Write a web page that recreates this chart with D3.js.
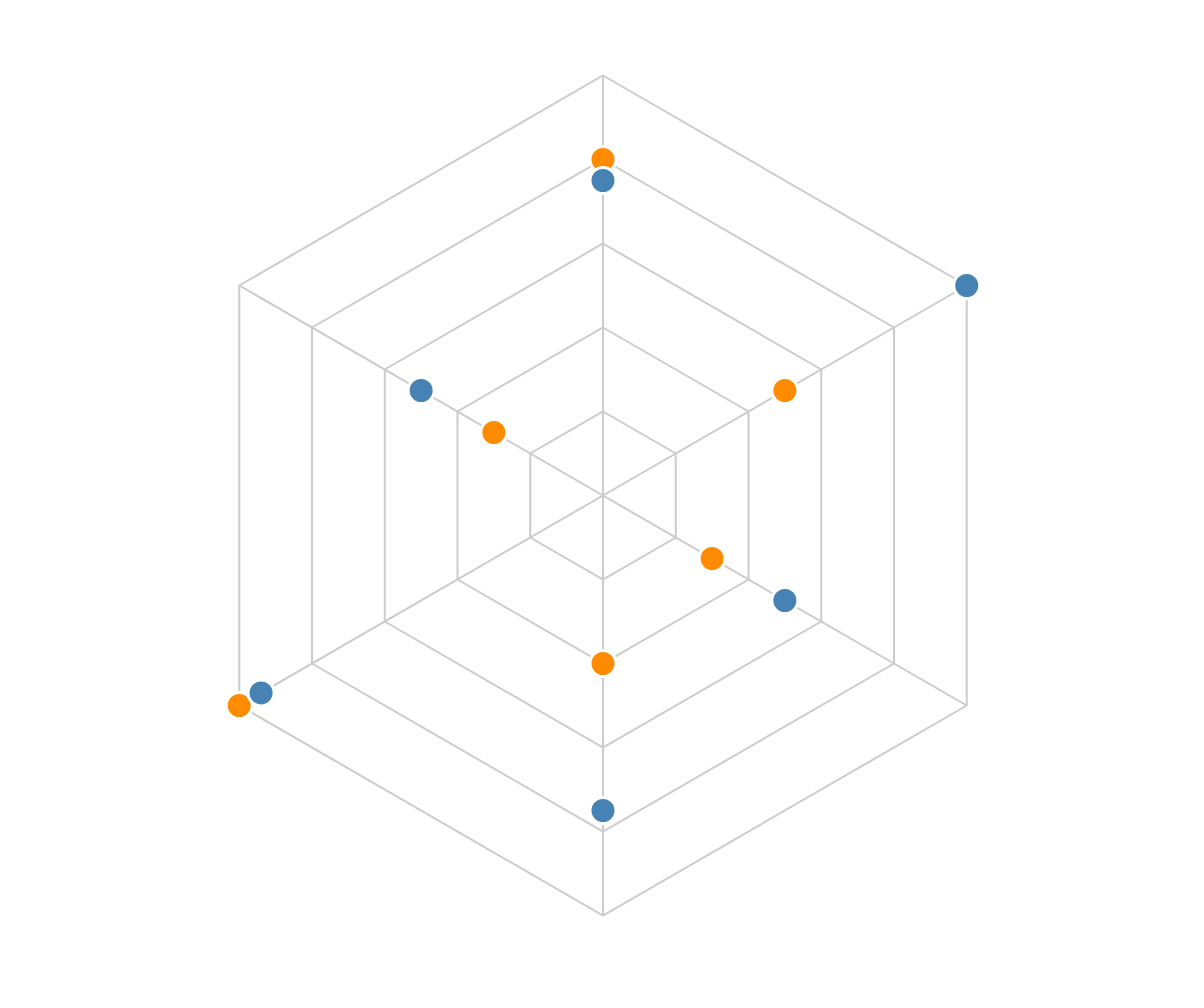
<!DOCTYPE html>
<html>
<head>
<meta charset="utf-8">
<script src="https://cdn.jsdelivr.net/npm/d3@7"></script>
<style>
  body { margin: 0; background: #fff; }
</style>
</head>
<body>
<div id="chart"></div>
<script>
// six axes, clockwise from the top
var axes = ["A", "B", "C", "D", "E", "F"];
var levels = [1, 2, 3, 4, 5];
var seriesNames = ["orange", "blue"];
var orangeValues = [4.0, 2.5, 1.5, 2.0, 5.0, 1.5];
var blueValues = [3.75, 5.0, 2.5, 3.75, 4.7, 2.5];
var seriesColors = ["#ff8c00", "#4682b4"];

var w = 1204, h = 1008;
var cx = 603, cy = 495.5;

var svg = d3.select("#chart")
    .append("svg")
    .attr("width", w)
    .attr("height", h);

//radius scale, 0..5 mapped to 0..420 px
var r = d3.scaleLinear().domain([0, 5]).range([0, 420]);

var angle = d3.scaleLinear().domain([0, axes.length]).range([0, 2 * Math.PI]);

function pt(i, v) {
    var a = angle(i);
    return [cx + r(v) * Math.sin(a), cy - r(v) * Math.cos(a)];
}

var g = svg.append("g");

//hexagon rings
g.selectAll("polygon.ring")
    .data(levels)
    .enter()
    .append("polygon")
    .attr("class", "ring")
    .attr("points", function (lv) {
        return axes.map(function (d, i) { return pt(i, lv).join(","); }).join(" ");
    })
    .style("fill", "none")
    .style("stroke", "#cccccc")
    .style("stroke-width", 2);

//spokes
g.selectAll("line.spoke")
    .data(axes)
    .enter()
    .append("line")
    .attr("class", "spoke")
    .attr("x1", cx)
    .attr("y1", cy)
    .attr("x2", function (d, i) { return pt(i, 5)[0]; })
    .attr("y2", function (d, i) { return pt(i, 5)[1]; })
    .style("stroke", "#cccccc")
    .style("stroke-width", 2);

var series = [orangeValues, blueValues];

series.forEach(function (vals, s) {
    svg.append("g")
        .selectAll("circle")
        .data(vals)
        .enter()
        .append("circle")
        .attr("cx", function (d, i) { return pt(i, d)[0]; })
        .attr("cy", function (d, i) { return pt(i, d)[1]; })
        .attr("r", 13)
        .style("fill", seriesColors[s])
        .style("stroke", "white")
        .style("stroke-width", 3)
        .append("title")
        .text(function (d, i) { return seriesNames[s] + " " + axes[i] + ": " + d; });
});
</script>
</body>
</html>
